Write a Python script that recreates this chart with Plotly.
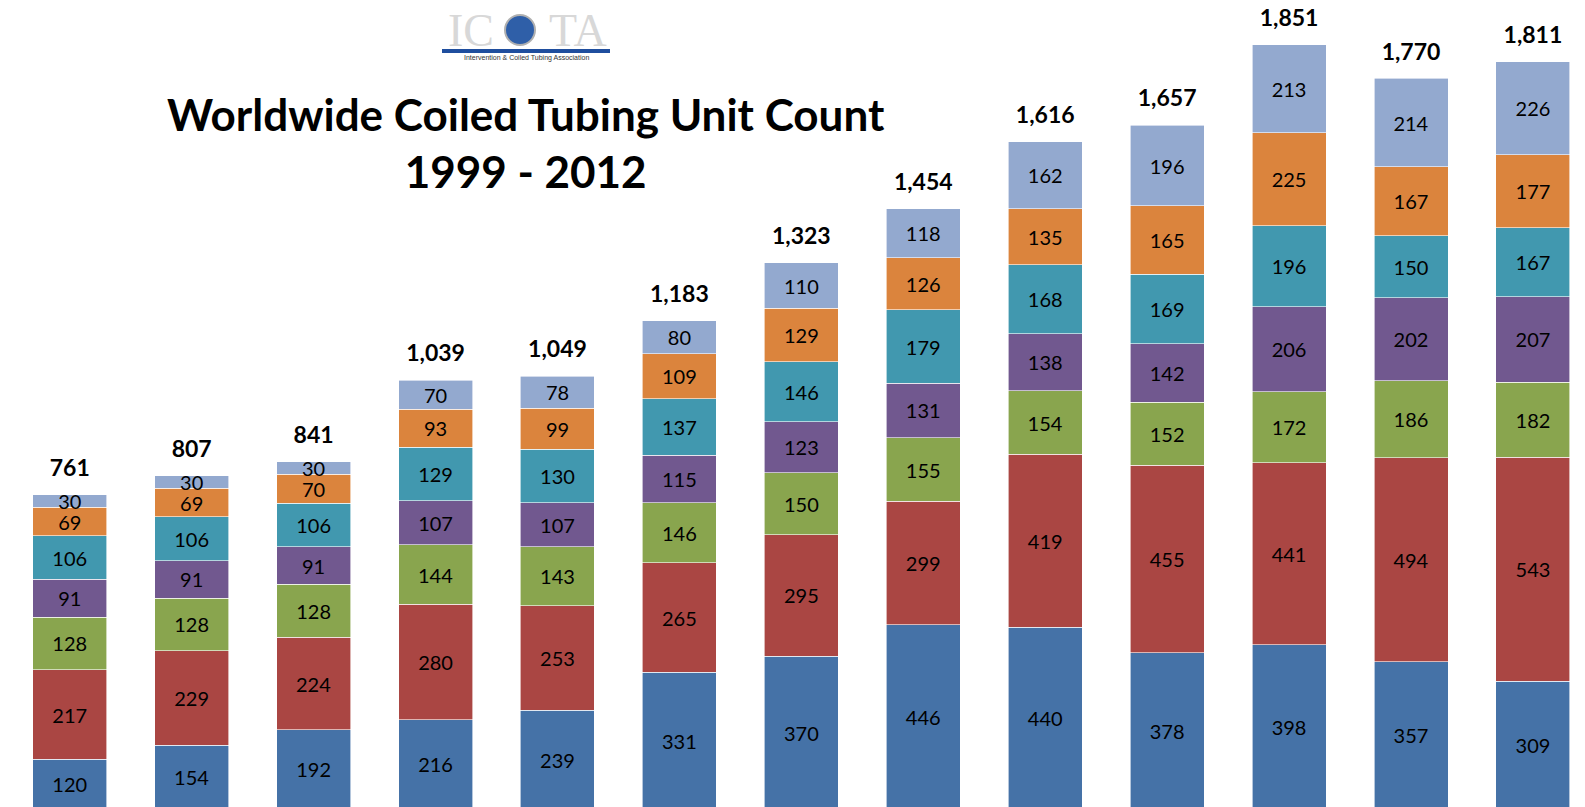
import plotly.graph_objects as go

years = ["2000", "2001", "2002", "2003", "2004", "2005", "2006",
         "2007", "2008", "2009", "2010", "2011", "2012"]
s1 = [120, 154, 192, 216, 239, 331, 370, 446, 440, 378, 398, 357, 309]
s2 = [217, 229, 224, 280, 253, 265, 295, 299, 419, 455, 441, 494, 543]
s3 = [128, 128, 128, 144, 143, 146, 150, 155, 154, 152, 172, 186, 182]
s4 = [91, 91, 91, 107, 107, 115, 123, 131, 138, 142, 206, 202, 207]
s5 = [106, 106, 106, 129, 130, 137, 146, 179, 168, 169, 196, 150, 167]
s6 = [69, 69, 70, 93, 99, 109, 129, 126, 135, 165, 225, 167, 177]
s7 = [30, 30, 30, 70, 78, 80, 110, 118, 162, 196, 213, 214, 226]

series = [s1, s2, s3, s4, s5, s6, s7]
colors = ["#4572A7", "#AA4643", "#89A54E", "#71588F", "#4198AF", "#DB843D", "#93A9CF"]
FONT = "Lato"

fig = go.Figure()
for vals, col in zip(series, colors):
    fig.add_trace(go.Bar(
        x=years, y=vals, marker=dict(color=col, line=dict(color="white", width=0.6)),
        text=[str(v) for v in vals], textposition="inside", insidetextanchor="middle",
        textangle=0, textfont=dict(family=FONT, size=20, color="black"),
        constraintext="none", showlegend=False, hoverinfo="skip"))

totals = [sum(t) for t in zip(*series)]
fig.add_trace(go.Scatter(
    x=years, y=totals, yaxis="y2", mode="text", text=[f"<b>{t:,}</b>" for t in totals],
    textposition="top center", textfont=dict(family=FONT, size=23, color="black"),
    cliponaxis=False, showlegend=False, hoverinfo="skip"))

fig.add_annotation(xref="paper", yref="paper", x=526 / 1585, y=1 - 142 / 807,
                   text="<b>Worldwide Coiled Tubing Unit Count<br>1999 - 2012</b>",
                   showarrow=False, xanchor="center", yanchor="middle",
                   font=dict(family=FONT, size=44, color="black"))

# logo
fig.add_annotation(xref="paper", yref="paper", x=471 / 1585, y=1 - 30 / 807,
                   text="IC", showarrow=False, xanchor="center", yanchor="middle",
                   font=dict(family="Liberation Serif", size=46, color="#d8d8d8"))
fig.add_annotation(xref="paper", yref="paper", x=578 / 1585, y=1 - 30 / 807,
                   text="TA", showarrow=False, xanchor="center", yanchor="middle",
                   font=dict(family="Liberation Serif", size=46, color="#d8d8d8"))
fig.add_shape(type="circle", xref="paper", yref="paper",
              x0=505 / 1585, x1=535 / 1585, y0=1 - 45 / 807, y1=1 - 15 / 807,
              fillcolor="#2f5fa8", line=dict(color="#b0b0b0", width=2))
fig.add_shape(type="rect", xref="paper", yref="paper",
              x0=442 / 1585, x1=610 / 1585, y0=1 - 53 / 807, y1=1 - 49 / 807,
              fillcolor="#1f4e9e", line=dict(width=0))
fig.add_annotation(xref="paper", yref="paper", x=526 / 1585, y=1 - 58 / 807,
                   text="Intervention & Coiled Tubing Association", showarrow=False,
                   xanchor="center", yanchor="middle",
                   font=dict(family="Liberation Sans", size=7, color="#333333"))

fig.update_layout(
    barmode="stack", bargap=0.393, width=1585, height=807,
    margin=dict(l=0, r=0, t=0, b=0), plot_bgcolor="white", paper_bgcolor="white",
    uniformtext=dict(minsize=20, mode="show"),
    xaxis=dict(type="category", range=[-0.572, 12.427], visible=False),
    yaxis=dict(range=[4.8, 1960], visible=False),
    yaxis2=dict(range=[4.8 - 13 / 0.4127, 1960 - 13 / 0.4127], visible=False,
                overlaying="y"),
)
fig.write_html("out.html", config={"displayModeBar": False},
               post_script="document.body.style.margin='0';document.body.style.overflow='hidden';")
